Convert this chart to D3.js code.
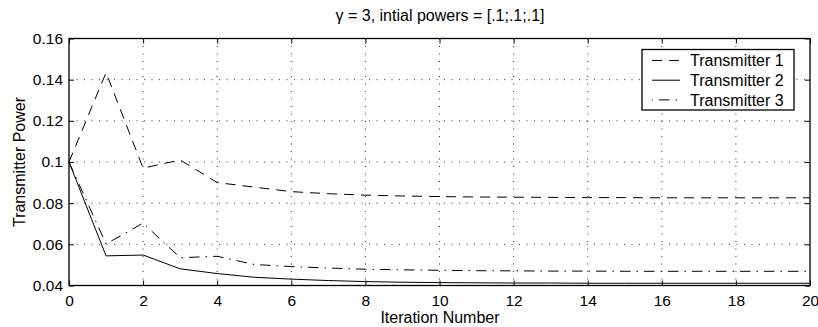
<!DOCTYPE html>
<html>
<head>
<meta charset="utf-8">
<script src="https://cdn.jsdelivr.net/npm/d3@7"></script>
<style>
  body { margin: 0; background: #fff; }
  text { font-family: "Liberation Sans", Arial, sans-serif; fill: #000; }
</style>
</head>
<body>
<div id="chart-area"></div>
<script>
// iteration index 0..20
const iterations = d3.range(0, 21);
const seriesNames = ['Transmitter 1', 'Transmitter 2', 'Transmitter 3'];
const tx1 = [0.1, 0.1434, 0.097, 0.101, 0.090, 0.0878, 0.0856, 0.0846, 0.0839, 0.0835, 0.0832,
  0.0830, 0.0829, 0.0828, 0.0827, 0.0827, 0.0826, 0.0826, 0.0826, 0.0826, 0.0826];
const tx2 = [0.1, 0.0544, 0.0548, 0.0481, 0.0458, 0.0440, 0.0431, 0.0424, 0.0419, 0.0416, 0.0414,
  0.0413, 0.0412, 0.0412, 0.0411, 0.0411, 0.0411, 0.0411, 0.0411, 0.0411, 0.0411];
const tx3 = [0.1, 0.0602, 0.0703, 0.0535, 0.0542, 0.0502, 0.0492, 0.0485, 0.0479, 0.0476, 0.0474,
  0.0472, 0.0471, 0.0470, 0.0470, 0.0469, 0.0469, 0.0469, 0.0469, 0.0469, 0.0469];
const xTicks = [0, 2, 4, 6, 8, 10, 12, 14, 16, 18, 20];
const yTicks = [0.04, 0.06, 0.08, 0.1, 0.12, 0.14, 0.16];
const titleText = 'γ = 3, intial powers = [.1;.1;.1]';

const width = 818;
const height = 327;
const margin = {top: 38.5, right: 8, bottom: 41.5, left: 69};

const svg = d3.select('#chart-area')
  .append('svg')
  .attr('width', width)
  .attr('height', height);

const x = d3.scaleLinear().domain([0, 20]).range([margin.left, width - margin.right]);
const y = d3.scaleLinear().domain([0.04, 0.16]).range([height - margin.bottom, margin.top]);

const plotW = x(20) - x(0);
const plotH = y(0.04) - y(0.16);

// dotted grid
const grid = svg.append('g');
grid.selectAll('line.gx')
  .data(xTicks.slice(1, -1))
  .enter().append('line')
  .attr('x1', d => x(d)).attr('x2', d => x(d))
  .attr('y1', y(0.16)).attr('y2', y(0.04))
  .attr('stroke', '#333').attr('stroke-width', 1)
  .attr('stroke-dasharray', '1,6.5');
grid.selectAll('line.gy')
  .data(yTicks.slice(1, -1))
  .enter().append('line')
  .attr('x1', x(0)).attr('x2', x(20))
  .attr('y1', d => y(d)).attr('y2', d => y(d))
  .attr('stroke', '#333').attr('stroke-width', 1)
  .attr('stroke-dasharray', '1,6.5');

// axes with inward ticks
const fmtY = d => d3.format('')(+d.toFixed(2));
const axBottom = svg.append('g')
  .attr('transform', `translate(0, ${y(0.04)})`)
  .call(d3.axisBottom(x).tickValues(xTicks).tickSize(-5).tickPadding(9));
const axTop = svg.append('g')
  .attr('transform', `translate(0, ${y(0.16)})`)
  .call(d3.axisTop(x).tickValues(xTicks).tickSize(-5).tickFormat(''));
const axLeft = svg.append('g')
  .attr('transform', `translate(${x(0)}, 0)`)
  .call(d3.axisLeft(y).tickValues(yTicks).tickSize(-5).tickPadding(6).tickFormat(fmtY));
const axRight = svg.append('g')
  .attr('transform', `translate(${x(20)}, 0)`)
  .call(d3.axisRight(y).tickValues(yTicks).tickSize(-5).tickFormat(''));

[axBottom, axTop, axLeft, axRight].forEach(g => {
  g.select('.domain').remove();
  g.selectAll('.tick line').attr('stroke', '#000');
  g.selectAll('text').style('font-size', '15.5px').attr('fill', '#000');
});
axBottom.selectAll('text').attr('dy', '0.71em');

svg.append('rect')
  .attr('x', x(0)).attr('y', y(0.16))
  .attr('width', plotW).attr('height', plotH)
  .attr('fill', 'none').attr('stroke', '#000').attr('stroke-width', 1.3);

// lines
const dashes = ['10,7', null, '10.5,6,1.5,6'];
const allSeries = [tx1, tx2, tx3];
const line = d3.line()
  .x((d, i) => x(iterations[i]))
  .y(d => y(d));

svg.append('g').selectAll('path')
  .data(allSeries)
  .enter().append('path')
  .attr('d', line)
  .attr('fill', 'none')
  .attr('stroke', '#000')
  .attr('stroke-width', 1)
  .attr('stroke-dasharray', (d, i) => dashes[i]);

// title and labels
svg.append('text')
  .attr('x', 440)
  .attr('y', 21)
  .attr('text-anchor', 'middle')
  .style('font-size', '16px')
  .text(titleText);

svg.append('text')
  .attr('x', 440)
  .attr('y', 323)
  .attr('text-anchor', 'middle')
  .style('font-size', '16px')
  .text('Iteration Number');

svg.append('text')
  .attr('transform', `translate(25, ${(y(0.04) + y(0.16)) / 2}) rotate(-90)`)
  .attr('text-anchor', 'middle')
  .style('font-size', '16px')
  .text('Transmitter Power');

// legend
const legend = svg.append('g').attr('transform', 'translate(642, 49.5)');
legend.append('rect')
  .attr('width', 152).attr('height', 60.5)
  .attr('fill', '#fff').attr('stroke', '#000').attr('stroke-width', 1.3);

const items = legend.selectAll('g.item')
  .data(seriesNames)
  .enter().append('g')
  .attr('transform', (d, i) => `translate(0, ${11 + i * 19.7})`);
items.append('line')
  .attr('x1', 10).attr('x2', 38)
  .attr('y1', 0).attr('y2', 0)
  .attr('stroke', '#000')
  .attr('stroke-dasharray', (d, i) => dashes[i])
  .attr('stroke-dashoffset', (d, i) => i === 2 ? 17 : 0);
items.append('text')
  .attr('x', 48).attr('y', 0).attr('dy', '0.36em')
  .style('font-size', '16px')
  .text(d => d);
</script>
</body>
</html>
